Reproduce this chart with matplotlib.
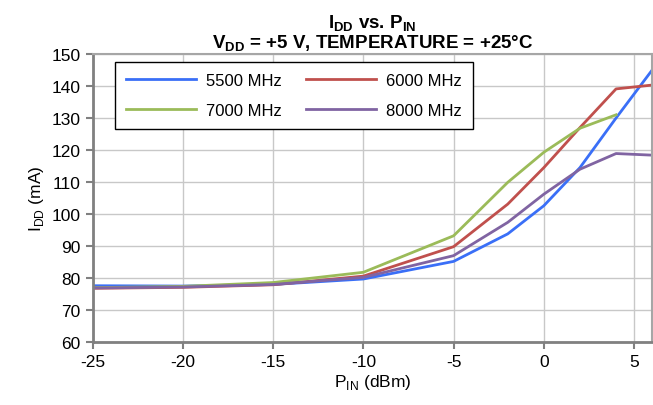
import matplotlib
matplotlib.use("Agg")
import matplotlib.pyplot as plt

plt.rcParams['font.family'] = ['Liberation Sans', 'DejaVu Sans']
plt.rcParams['mathtext.fontset'] = 'custom'
plt.rcParams['mathtext.rm'] = 'Liberation Sans'
plt.rcParams['mathtext.bf'] = 'Liberation Sans:bold'
plt.rcParams['axes.unicode_minus'] = False

# input power (dBm)
pin = [-25, -20, -15, -10, -5, -2, 0, 2, 4, 6]
pin_7000 = [-25, -20, -15, -10, -5, -2, 0, 2, 4]

# supply current (mA)
idd_5500 = [77.6, 77.5, 78.0, 79.7, 85.2, 93.8, 102.6, 114.5, 130.0, 145.0]
idd_6000 = [76.8, 77.1, 77.9, 80.6, 89.8, 103.1, 114.5, 127.0, 139.1, 140.3]
idd_7000 = [77.0, 77.4, 78.6, 81.8, 93.2, 109.9, 119.3, 126.8, 131.0]
idd_8000 = [76.9, 77.2, 78.0, 80.2, 87.0, 97.4, 106.2, 114.0, 118.9, 118.4]

fig = plt.figure(figsize=(6.53, 4.06), dpi=100)
ax = fig.add_axes([0.1417, 0.155, 0.857, 0.7095])

l1, = ax.plot(pin, idd_5500, color='#3A6FF7', lw=2, label='5500 MHz')
l2, = ax.plot(pin, idd_6000, color='#C0504D', lw=2, label='6000 MHz')
l3, = ax.plot(pin_7000, idd_7000, color='#9BBB59', lw=2, label='7000 MHz')
l4, = ax.plot(pin, idd_8000, color='#8064A2', lw=2, label='8000 MHz')

ax.set_xlim(-25, 6)
ax.set_ylim(60, 150)
ax.set_xticks(range(-25, 6, 5))
ax.set_yticks(range(60, 151, 10))
ax.grid(True, color='#C8C8C8', lw=1)
ax.set_axisbelow(True)
ax.tick_params(labelsize=12.5, color='#808080', width=1.5, length=5)

for s in ['left', 'bottom']:
    ax.spines[s].set_color('#808080')
    ax.spines[s].set_linewidth(2)
for s in ['top', 'right']:
    ax.spines[s].set_color('#A6A6A6')
    ax.spines[s].set_linewidth(1.5)

ax.set_xlabel(r'P$_{\rm IN}$ (dBm)', fontsize=12.5, labelpad=2)
ax.set_ylabel(r'I$_{\rm DD}$ (mA)', fontsize=12.5)
ax.set_title(r'$\mathbf{I_{DD}}$ vs. $\mathbf{P_{IN}}$' + '\n' +
             r'$\mathbf{V_{DD}}$ = +5 V, TEMPERATURE = +25°C',
             fontsize=13.5, fontweight='bold', pad=5, linespacing=1.0)

# row-wise order like the original: 5500 6000 / 7000 8000
leg = ax.legend([l1, l3, l2, l4], ['5500 MHz', '7000 MHz', '6000 MHz', '8000 MHz'],
                ncol=2, loc='upper left', bbox_to_anchor=(0.04, 0.972),
                borderaxespad=0,
                fontsize=12, frameon=True, fancybox=False, edgecolor='black',
                framealpha=1, handlelength=4.2, handletextpad=0.6,
                columnspacing=1.5, labelspacing=0.9, borderpad=0.65)
leg.get_frame().set_linewidth(1)

fig.savefig('out.png', dpi=100)
